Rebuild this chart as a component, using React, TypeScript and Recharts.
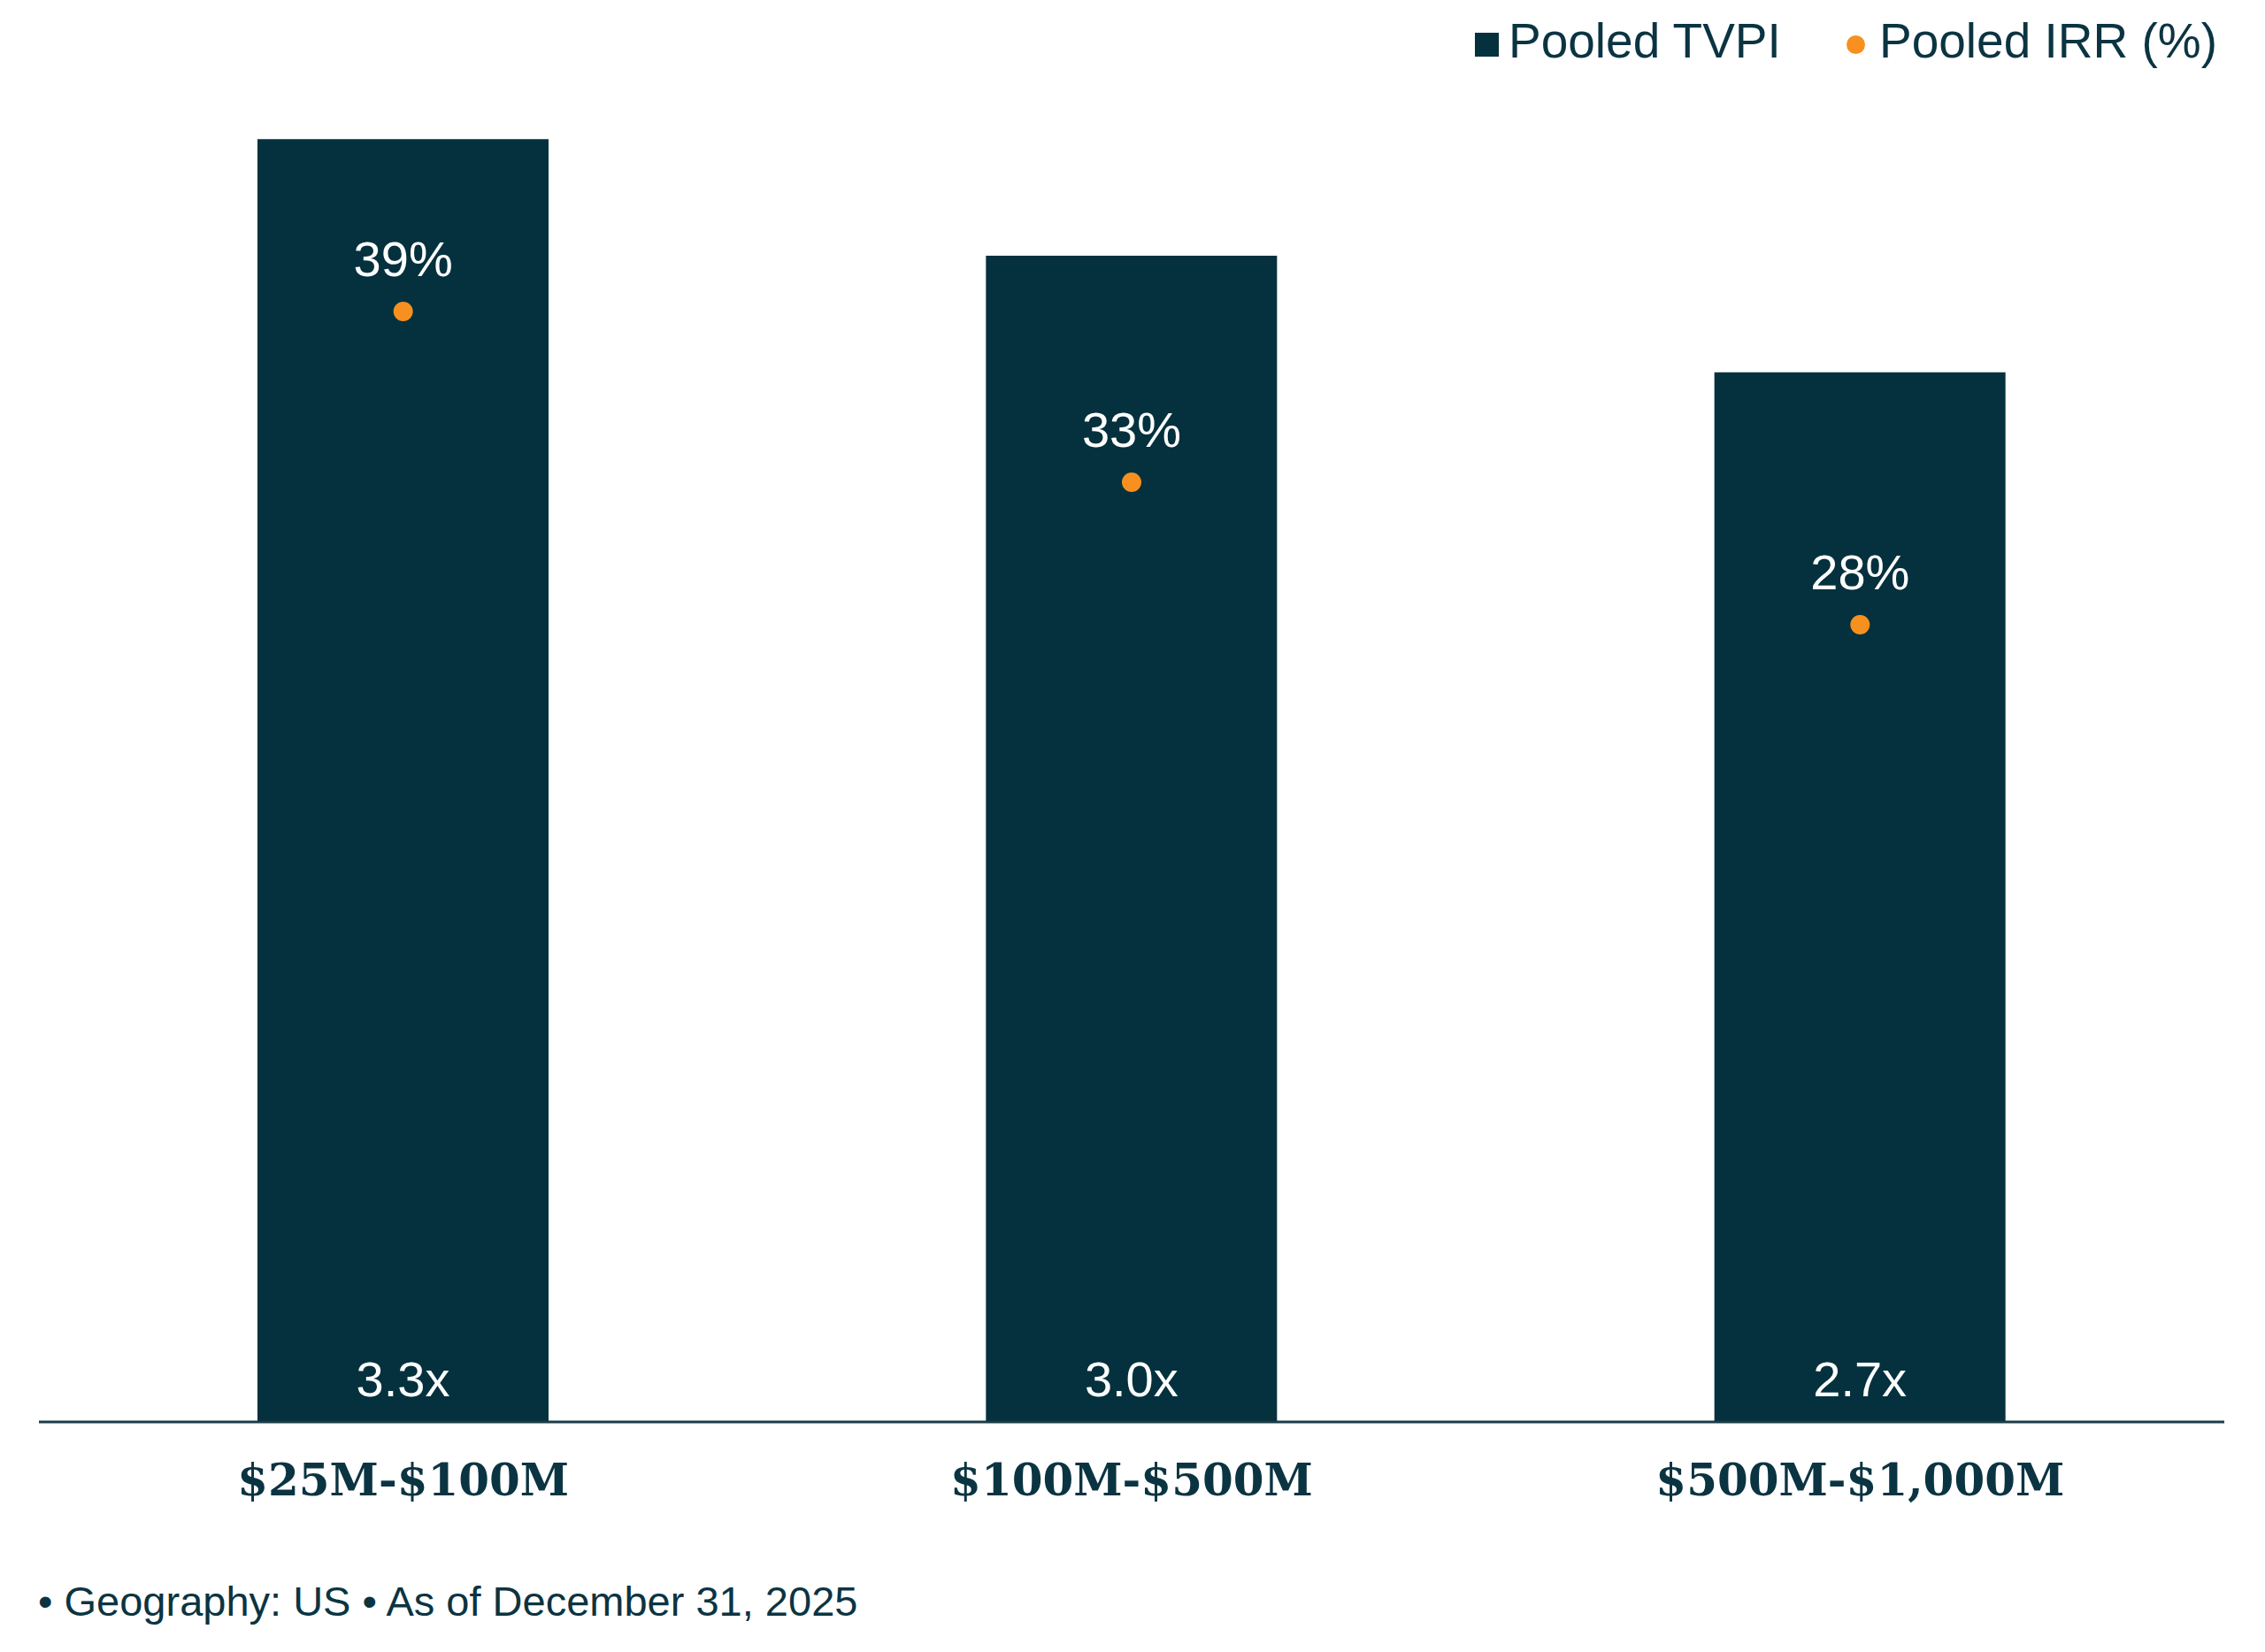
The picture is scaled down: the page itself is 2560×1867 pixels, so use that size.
import React from 'react';
import { ComposedChart, Bar, Line, XAxis, YAxis, Legend } from 'recharts';

const categories = ['$25M-$100M', '$100M-$500M', '$500M-$1,000M'];
const tvpiValues = [3.3, 3.0, 2.7];
const irrValues = [39, 33, 28];
const seriesNames = ['Pooled TVPI', 'Pooled IRR (%)'];
const footnote = '\u2022 Geography: US \u2022 As of December 31, 2025';

const data = categories.map((name, i) => ({ name, tvpi: tvpiValues[i], irr: irrValues[i] }));

const BAR = '#04313d';
const ORANGE = '#f7901e';
const TEXT = '#0b3442';
const AXIS = '#1b3d48';
const SANS = '"Liberation Sans", Arial, Helvetica, sans-serif';
const SERIF = '"DejaVu Serif", Georgia, serif';

const W = 2560;
const H = 1867;

const pick = (props: any, key: string) => {
  const vb = props.viewBox || {};
  return props[key] !== undefined ? props[key] : vb[key];
};

const BarValueLabel = (props: any) => {
  const x = Number(pick(props, 'x'));
  const y = Number(pick(props, 'y'));
  const w = Number(pick(props, 'width'));
  const h = Number(pick(props, 'height'));
  const v = Number(props.value);
  return (
    <text x={x + w / 2} y={y + h - 29} textAnchor="middle" fill="#ffffff" fontSize={56} fontFamily={SANS}>
      {`${v.toFixed(1)}x`}
    </text>
  );
};

const IrrValueLabel = (props: any) => {
  const x = Number(pick(props, 'x'));
  const y = Number(pick(props, 'y'));
  return (
    <text x={x} y={y - 40} textAnchor="middle" fill="#ffffff" fontSize={56} fontFamily={SANS}>
      {`${props.value}%`}
    </text>
  );
};

const CategoryTick = (props: any) => {
  const { x, y, payload } = props;
  return (
    <text x={x} y={y + 83} textAnchor="middle" fill={TEXT} fontSize={50} fontWeight="bold" fontFamily={SERIF}>
      {payload.value}
    </text>
  );
};

const renderLegend = (props: any) => {
  const payload = props.payload || [];
  const tvpiEntry = payload.find((p: any) => p.value === seriesNames[0]) || { value: seriesNames[0], color: BAR };
  const irrEntry = payload.find((p: any) => p.value === seriesNames[1]) || { value: seriesNames[1], color: ORANGE };
  const textStyle: React.CSSProperties = {
    position: 'absolute',
    top: 19,
    whiteSpace: 'nowrap',
    fontFamily: SANS,
    fontSize: 55,
    lineHeight: '55px',
    color: TEXT,
  };
  return (
    <div style={{ position: 'relative', width: W, height: 100 }}>
      <div style={{ position: 'absolute', left: 1667, top: 37, width: 27, height: 27, background: BAR }} />
      <span style={{ ...textStyle, left: 1705 }}>{tvpiEntry.value}</span>
      <div
        style={{
          position: 'absolute',
          left: 2097 - 10.5,
          top: 50 - 10.5,
          width: 21,
          height: 21,
          borderRadius: '50%',
          background: ORANGE,
        }}
      />
      <span style={{ ...textStyle, left: 2124 }}>{irrEntry.value}</span>
    </div>
  );
};

export default function App() {
  return (
    <div style={{ position: 'absolute', left: 0, top: 0, width: W, height: H, background: '#ffffff' }}>
      <ComposedChart
        width={W}
        height={H}
        data={data}
        margin={{ top: 69.4, right: 46, bottom: 160, left: 44 }}
      >
        <XAxis
          dataKey="name"
          height={100}
          interval={0}
          axisLine={{ stroke: AXIS, strokeWidth: 3 }}
          tickLine={false}
          tickSize={0}
          tickMargin={0}
          tick={<CategoryTick />}
        />
        <YAxis yAxisId="tvpi" hide width={0} domain={[0, 3.5]} />
        <YAxis yAxisId="irr" hide width={0} orientation="right" domain={[0, 47.78]} />
        <Bar
          yAxisId="tvpi"
          dataKey="tvpi"
          name={seriesNames[0]}
          fill={BAR}
          barSize={329}
          isAnimationActive={false}
          label={BarValueLabel}
        />
        <Line
          yAxisId="irr"
          dataKey="irr"
          name={seriesNames[1]}
          stroke="none"
          strokeWidth={0}
          dot={{ r: 11, fill: ORANGE, stroke: 'none' }}
          activeDot={false}
          isAnimationActive={false}
          label={IrrValueLabel}
        />
        <Legend
          layout="vertical"
          align="center"
          verticalAlign="middle"
          wrapperStyle={{ top: 0, left: 0, width: W, height: 100 }}
          content={renderLegend}
        />
      </ComposedChart>
      <div
        style={{
          position: 'absolute',
          left: 43,
          top: 1786,
          whiteSpace: 'nowrap',
          fontFamily: SANS,
          fontSize: 47,
          lineHeight: '47px',
          color: TEXT,
        }}
      >
        {footnote}
      </div>
    </div>
  );
}
